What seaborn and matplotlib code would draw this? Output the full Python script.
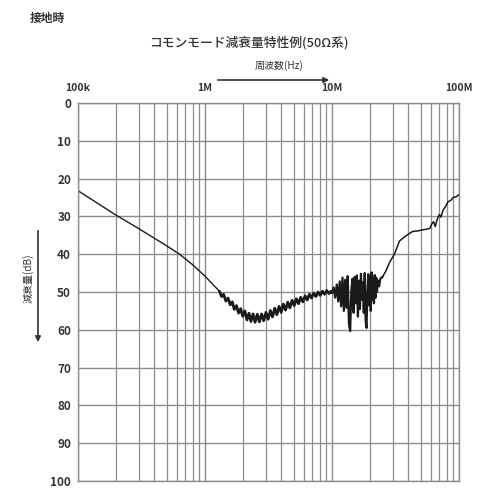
import numpy as np
import pandas as pd
import matplotlib
matplotlib.use("Agg")
import matplotlib.pyplot as plt
from matplotlib.ticker import LogLocator, FixedLocator, NullFormatter
import seaborn as sns

# ---------------- data ----------------
# smooth roll-off, 100 kHz .. 1.3 MHz  (MHz, dB)
freq_a = [0.10, 0.15, 0.20, 0.30, 0.40, 0.50, 0.63, 0.80, 1.00, 1.20, 1.30]
att_a = [23.2, 27.0, 29.7, 33.2, 35.8, 37.8, 40.0, 42.8, 45.8, 48.6, 49.8]

# thick (noisy) trough, 1.3 MHz .. 10 MHz
freq_b = [1.30, 1.35, 1.40, 1.46, 1.52, 1.58, 1.64, 1.70, 1.77, 1.84,
          1.91, 1.98, 2.06, 2.14, 2.22, 2.30, 2.39, 2.48, 2.58, 2.68,
          2.79, 2.90, 3.02, 3.14, 3.27, 3.40, 3.54, 3.68, 3.83, 3.98,
          4.14, 4.31, 4.48, 4.66, 4.85, 5.04, 5.24, 5.45, 5.67, 5.90,
          6.14, 6.38, 6.64, 6.90, 7.18, 7.47, 7.77, 8.08, 8.40, 8.74,
          9.09, 9.45, 9.83, 10.0]
att_b = [49.8, 51.2, 50.6, 52.4, 51.6, 53.4, 52.6, 54.6, 53.6, 55.6,
         54.4, 56.4, 55.0, 57.4, 55.6, 57.8, 55.8, 58.0, 55.9, 57.9,
         55.8, 57.6, 55.4, 57.2, 54.9, 56.6, 54.3, 56.0, 53.8, 55.4,
         53.2, 54.8, 52.7, 54.2, 52.2, 53.6, 51.8, 53.1, 51.4, 52.6,
         51.0, 52.1, 50.6, 51.6, 50.3, 51.2, 50.0, 50.9, 49.8, 50.6,
         49.6, 50.4, 49.8, 50.2]

# resonance region, 10 MHz .. 24 MHz
freq_c = [10.0, 10.3, 10.6, 10.9, 11.2, 11.5, 11.8, 12.1, 12.4, 12.7,
          13.0, 13.3, 13.6, 13.9, 14.2, 14.5, 14.8, 15.1, 15.4, 15.7,
          16.0, 16.3, 16.6, 16.9, 17.2, 17.5, 17.8, 18.1, 18.4, 18.7,
          19.0, 19.3, 19.6, 19.9, 20.2, 20.5, 20.8, 21.1, 21.4, 21.7,
          22.0, 22.3, 22.6, 23.0, 23.5, 24.0, 25.0]
att_c = [50.2, 48.8, 51.5, 48.0, 52.5, 47.2, 53.8, 46.2, 55.0, 46.8,
         54.2, 45.8, 58.5, 60.3, 49.5, 46.5, 55.5, 46.0, 53.0, 45.6,
         56.5, 47.0, 54.5, 45.2, 52.0, 47.5, 55.5, 45.0, 57.5, 59.5,
         50.0, 45.3, 53.5, 46.0, 55.0, 44.8, 52.0, 46.5, 53.0, 45.5,
         51.5, 46.2, 50.0, 47.0, 48.5, 46.5, 46.0]

# recovery, 25 MHz .. 100 MHz
freq_d = [25.0, 26.5, 28.6, 31.0, 34.0, 38.0, 43.0, 48.0, 51.0, 55.0,
          59.0, 61.0, 63.0, 65.0, 67.0, 70.0, 72.0, 75.0, 78.0, 82.0,
          86.0, 90.0, 95.0, 100.0]
att_d = [46.0, 44.5, 42.0, 40.0, 36.5, 35.2, 34.0, 33.8, 33.6, 33.4,
         33.2, 32.0, 31.4, 32.7, 31.0, 29.5, 30.2, 28.3, 27.5, 26.1,
         25.8, 25.0, 24.8, 24.2]

x_tick_values = [1e5, 1e6, 1e7, 1e8]
x_tick_labels = ["100k", "1M", "10M", "100M"]
y_tick_values = list(range(0, 101, 10))

title_text = "コモンモード減衰量特性例(50Ω系)"
corner_text = "接地時"
x_label_text = "周波数(Hz)"
y_label_text = "減衰量(dB)"

# ---------------- build frames ----------------
segments = [
    (freq_a, att_a, 1.0),
    (freq_b, att_b, 2.0),
    (freq_c, att_c, 1.6),
    (freq_d, att_d, 1.1),
]

sns.set_theme(style="white")
plt.rcParams["font.family"] = ["Noto Sans CJK JP", "DejaVu Sans"]

W, H = 478, 500
fig = plt.figure(figsize=(W / 100, H / 100), dpi=100)
fig.patch.set_facecolor("white")

left, right, top, bottom = 78, 459, 103, 481
ax = fig.add_axes([left / W, 1 - bottom / H, (right - left) / W, (bottom - top) / H])

for fr, at, lw in segments:
    seg = pd.DataFrame({"freq": np.array(fr) * 1e6, "att": at})
    sns.lineplot(data=seg, x="freq", y="att", ax=ax, color="#1a1a1a",
                 linewidth=lw, estimator=None, sort=False)

ax.set_xscale("log")
ax.set_xlim(1e5, 1e8)
ax.set_ylim(100, 0)

grid_col = "#8c8c8c"
ax.xaxis.set_major_locator(FixedLocator(x_tick_values))
ax.set_xticklabels(x_tick_labels)
ax.xaxis.set_minor_locator(LogLocator(base=10, subs=np.arange(2, 10)))
ax.xaxis.set_minor_formatter(NullFormatter())
ax.set_yticks(y_tick_values)
ax.set_yticklabels([str(v) for v in y_tick_values])

ax.grid(True, which="major", axis="both", color=grid_col, linewidth=1.0)
ax.grid(True, which="minor", axis="x", color=grid_col, linewidth=0.9)

ax.xaxis.tick_top()
ax.tick_params(axis="x", which="both", length=0, pad=7, labelsize=7.5, colors="#333333")
ax.tick_params(axis="y", which="both", length=0, pad=5, labelsize=8.5, colors="#333333")
for lbl in ax.get_xticklabels() + ax.get_yticklabels():
    lbl.set_fontweight("bold")

for sp in ax.spines.values():
    sp.set_color(grid_col)
    sp.set_linewidth(1.0)

ax.set_xlabel("")
ax.set_ylabel("")

def fx(px):
    return px / W

def fy(py):
    return 1 - py / H

txt_col = "#333333"
fig.text(fx(30), fy(18), corner_text, ha="left", va="center", fontsize=8.5,
         color=txt_col, fontweight="bold")
fig.text(fx(249), fy(43), title_text, ha="center", va="center", fontsize=9.2,
         color=txt_col, fontweight="medium")
fig.text(fx(279), fy(66), x_label_text, ha="center", va="center", fontsize=7.2,
         color=txt_col)
fig.text(fx(28), fy(278), y_label_text, ha="center", va="center", fontsize=7.2,
         color=txt_col, rotation=90)

fig.add_artist(matplotlib.patches.FancyArrowPatch(
    (fx(215), fy(80)), (fx(332), fy(80)), transform=fig.transFigure,
    arrowstyle="-|>", mutation_scale=8, color="#333333", linewidth=1.2))
fig.add_artist(matplotlib.patches.FancyArrowPatch(
    (fx(38), fy(228)), (fx(38), fy(345)), transform=fig.transFigure,
    arrowstyle="-|>", mutation_scale=8, color="#333333", linewidth=1.2))

fig.savefig("out.png", dpi=100, facecolor="white")
